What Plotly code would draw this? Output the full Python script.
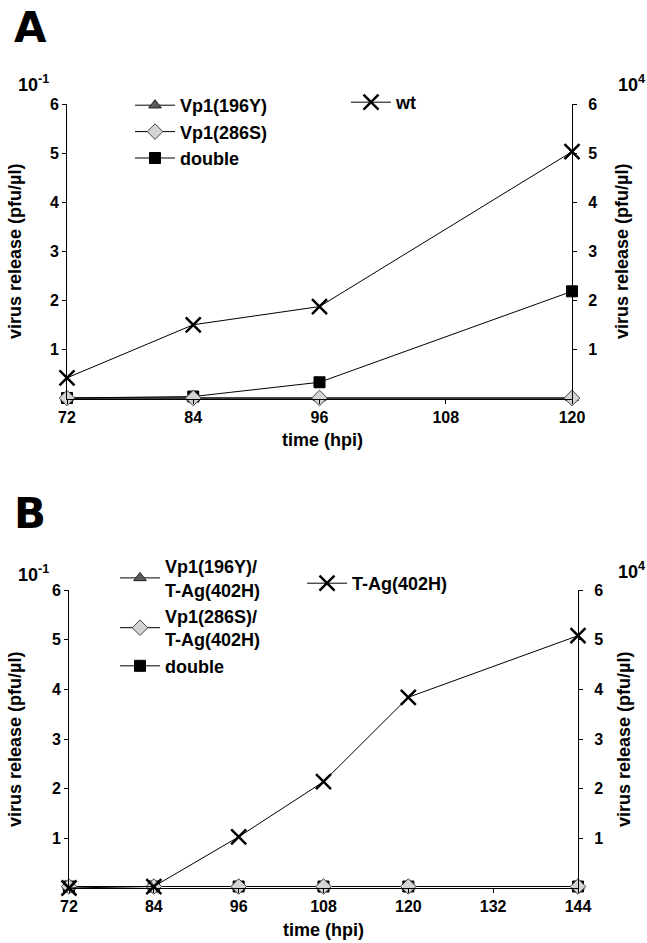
import plotly.graph_objects as go

# ---------------- data ----------------
hpi_A = [72, 84, 96, 120]
a_vp1_196y = [0.02, 0.02, 0.02, 0.02]
a_vp1_286s = [0.02, 0.02, 0.02, 0.02]
a_double = [0.02, 0.05, 0.34, 2.19]
a_wt = [0.43, 1.51, 1.88, 5.03]

hpi_B = [72, 84, 96, 108, 120, 144]
b_vp1_196y = [0.03, 0.03, 0.03, 0.03, 0.03, 0.03]
b_vp1_286s = [0.03, 0.03, 0.03, 0.03, 0.03, 0.03]
b_double = [0.03, 0.03, 0.03, 0.03, 0.03, 0.03]
b_tag = [0.0, 0.03, 1.03, 2.14, 3.84, 5.08]

ticks_A = [72, 84, 96, 108, 120]
ticks_B = [72, 84, 96, 108, 120, 132, 144]
y_ticks = [1, 2, 3, 4, 5, 6]

FONT = "Liberation Sans, Arial, sans-serif"
W, H = 647, 943

def px(x):
    return x / W

def py(y):
    return 1 - y / H

tri = dict(symbol="triangle-up", size=11, color="#5a5a5a", line=dict(color="#222", width=1))
dia = dict(symbol="diamond", size=12, color="#d4d4d4", line=dict(color="#444", width=1))
sq = dict(symbol="square", size=11, color="black", line=dict(color="black", width=1))
xm = dict(symbol="x-thin", size=15, color="black", line=dict(color="black", width=2.5))
line = dict(color="black", width=1)

fig = go.Figure()

# Panel A
fig.add_trace(go.Scatter(x=hpi_A, y=a_double, name="double", mode="lines+markers",
                         marker=sq, line=line, xaxis="x", yaxis="y", legend="legend",
                         legendrank=3, legendgroup="a3", cliponaxis=False))
fig.add_trace(go.Scatter(x=hpi_A, y=a_vp1_196y, name="Vp1(196Y)", mode="lines+markers",
                         marker=tri, line=line, xaxis="x", yaxis="y", legend="legend",
                         legendrank=1, legendgroup="a1", cliponaxis=False))
fig.add_trace(go.Scatter(x=hpi_A, y=a_vp1_286s, name="Vp1(286S)", mode="lines+markers",
                         marker=dia, line=line, xaxis="x", yaxis="y", legend="legend",
                         legendrank=2, legendgroup="a2", cliponaxis=False))
fig.add_trace(go.Scatter(x=hpi_A, y=a_wt, name="wt", mode="lines+markers",
                         marker=xm, line=line, xaxis="x", yaxis="y2", legend="legend2",
                         cliponaxis=False))

# Panel B
fig.add_trace(go.Scatter(x=hpi_B, y=b_double, name="double", mode="lines+markers",
                         marker=sq, line=line, xaxis="x2", yaxis="y3", legend="legend3",
                         legendrank=3, legendgroup="b3", cliponaxis=False))
fig.add_trace(go.Scatter(x=hpi_B, y=b_vp1_196y, name="Vp1(196Y)/<br>T-Ag(402H)", mode="lines+markers",
                         marker=tri, line=line, xaxis="x2", yaxis="y3", legend="legend3",
                         legendrank=1, legendgroup="b1", cliponaxis=False))
fig.add_trace(go.Scatter(x=hpi_B, y=b_vp1_286s, name="Vp1(286S)/<br>T-Ag(402H)", mode="lines+markers",
                         marker=dia, line=line, xaxis="x2", yaxis="y3", legend="legend3",
                         legendrank=2, legendgroup="b2", cliponaxis=False))
fig.add_trace(go.Scatter(x=hpi_B, y=b_tag, name="T-Ag(402H)", mode="lines+markers",
                         marker=xm, line=line, xaxis="x2", yaxis="y4", legend="legend4",
                         cliponaxis=False))

tickfont = dict(family=FONT, size=16, color="black", weight="bold")
xcommon = dict(showline=True, linecolor="black", linewidth=1, ticks="outside", ticklen=4,
               tickcolor="black", showgrid=False, zeroline=False, tickfont=tickfont,
               automargin=False)
ycommon = dict(showline=True, linecolor="black", linewidth=1, ticks="outside", ticklen=4,
               tickcolor="black", showgrid=False, zeroline=False, tickfont=tickfont,
               range=[0, 6], tickvals=y_ticks, automargin=False)

legfont = dict(family=FONT, size=18, color="black", weight="bold")
legcommon = dict(font=legfont, bgcolor="rgba(0,0,0,0)", borderwidth=0, itemwidth=40,
                 xanchor="left", yanchor="top", traceorder="grouped", tracegroupgap=0)

fig.update_layout(
    width=W, height=H,
    margin=dict(l=0, r=0, t=0, b=0, autoexpand=False),
    paper_bgcolor="white", plot_bgcolor="white",
    showlegend=True,
    xaxis=dict(domain=[px(67), px(572)], anchor="y", range=[72, 120], tickvals=ticks_A, **xcommon),
    yaxis=dict(domain=[py(399), py(104)], anchor="x", **ycommon),
    yaxis2=dict(anchor="x", overlaying="y", side="right", ticklabelstandoff=8, **ycommon),
    xaxis2=dict(domain=[px(69), px(578)], anchor="y3", range=[72, 144], tickvals=ticks_B, **xcommon),
    yaxis3=dict(domain=[py(888), py(590)], anchor="x2", **ycommon),
    yaxis4=dict(anchor="x2", overlaying="y3", side="right", ticklabelstandoff=8, **ycommon),
    legend=dict(x=px(130), y=py(87), **legcommon),
    legend2=dict(x=px(346), y=py(84), **legcommon),
    legend3=dict(x=px(115), y=py(548), **legcommon),
    legend4=dict(x=px(302), y=py(565), **legcommon),
)

afont = dict(family=FONT, size=18, color="black", weight="bold")
big = dict(family="DejaVu Sans, Liberation Sans, sans-serif", size=42, color="black", weight="bold")
ann = [
    dict(text="A", x=px(31), y=py(28), font=big),
    dict(text="B", x=px(30), y=py(513), font=big),
    dict(text="10<sup>-1</sup>", x=px(33), y=py(83), font=afont),
    dict(text="10<sup>4</sup>", x=px(631), y=py(83), font=afont),
    dict(text="10<sup>-1</sup>", x=px(33), y=py(573), font=afont),
    dict(text="10<sup>4</sup>", x=px(631), y=py(570), font=afont),
    dict(text="time (hpi)", x=px(322), y=py(440), font=afont),
    dict(text="time (hpi)", x=px(323), y=py(930), font=afont),
    dict(text="virus release (pfu/µl)", x=px(15), y=py(252), font=afont, textangle=-90),
    dict(text="virus release (pfu/µl)", x=px(622), y=py(252), font=afont, textangle=-90),
    dict(text="virus release (pfu/µl)", x=px(15), y=py(740), font=afont, textangle=-90),
    dict(text="virus release (pfu/µl)", x=px(624), y=py(740), font=afont, textangle=-90),
]
for a in ann:
    a.update(xref="paper", yref="paper", showarrow=False, xanchor="center", yanchor="middle")
fig.update_layout(annotations=ann)

fig.write_html("out.html", config={"displayModeBar": False},
               post_script="document.body.style.margin='0';")
